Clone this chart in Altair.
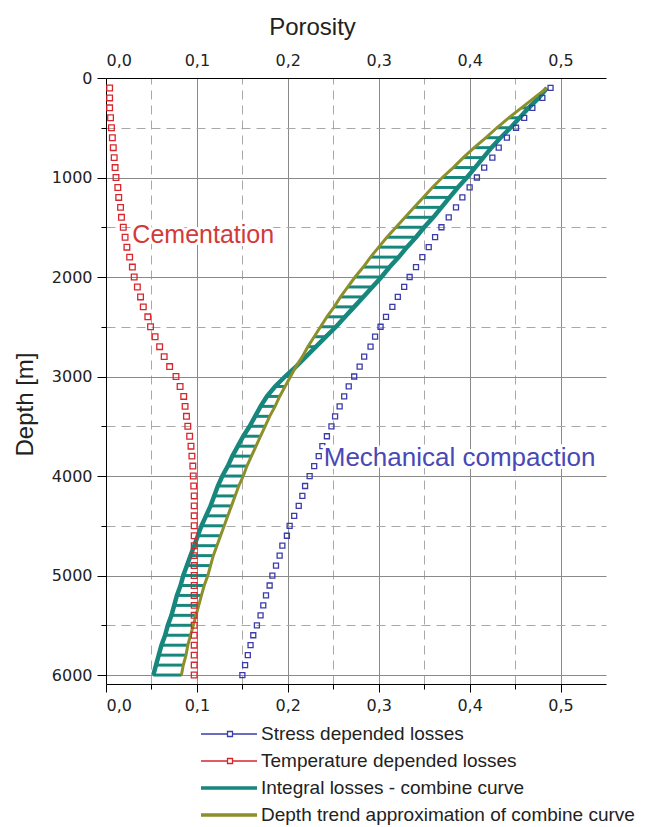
import altair as alt
import pandas as pd

# ---------------- data ----------------
depth = [100, 200, 300, 400, 500, 600, 700, 800, 900, 1000,
         1100, 1200, 1300, 1400, 1500, 1600, 1700, 1800, 1900, 2000,
         2100, 2200, 2300, 2400, 2500, 2600, 2700, 2800, 2900, 3000,
         3100, 3200, 3300, 3400, 3500, 3600, 3700, 3800, 3900, 4000,
         4100, 4200, 4300, 4400, 4500, 4600, 4700, 4800, 4900, 5000,
         5100, 5200, 5300, 5400, 5500, 5600, 5700, 5800, 5900, 6000]

stress = [0.489, 0.480, 0.469, 0.460, 0.451, 0.441, 0.432, 0.425, 0.416, 0.408,
          0.400, 0.392, 0.385, 0.377, 0.369, 0.362, 0.355, 0.348, 0.341, 0.334,
          0.328, 0.321, 0.315, 0.308, 0.302, 0.296, 0.291, 0.284, 0.279, 0.273,
          0.267, 0.262, 0.257, 0.252, 0.248, 0.243, 0.238, 0.234, 0.229, 0.224,
          0.219, 0.216, 0.212, 0.207, 0.202, 0.199, 0.194, 0.191, 0.187, 0.183,
          0.180, 0.176, 0.173, 0.170, 0.166, 0.162, 0.159, 0.156, 0.153, 0.150]

temperature = [0.004, 0.004, 0.004, 0.005, 0.006, 0.007, 0.008, 0.009, 0.010, 0.011,
               0.013, 0.014, 0.016, 0.017, 0.019, 0.021, 0.023, 0.026, 0.029, 0.031,
               0.0345, 0.038, 0.041, 0.046, 0.049, 0.054, 0.059, 0.064, 0.070, 0.077,
               0.0815, 0.0855, 0.087, 0.0885, 0.090, 0.092, 0.0935, 0.0945, 0.0955, 0.096,
               0.0965, 0.097, 0.097, 0.097, 0.097, 0.097, 0.097, 0.097, 0.097, 0.097,
               0.097, 0.097, 0.097, 0.097, 0.097, 0.097, 0.097, 0.097, 0.097, 0.097]

integral = [0.485, 0.476, 0.465, 0.455, 0.445, 0.434, 0.424, 0.415, 0.406, 0.397,
            0.387, 0.378, 0.369, 0.360, 0.350, 0.341, 0.331, 0.322, 0.312, 0.303,
            0.293, 0.283, 0.273, 0.263, 0.253, 0.242, 0.231, 0.220, 0.209, 0.197,
            0.186, 0.177, 0.170, 0.164, 0.158, 0.151, 0.145, 0.139, 0.134, 0.128,
            0.123, 0.119, 0.115, 0.110, 0.105, 0.101, 0.097, 0.093, 0.089, 0.085,
            0.082, 0.078, 0.075, 0.072, 0.068, 0.065, 0.061, 0.058, 0.055, 0.052]

trend = [0.485, 0.471, 0.457, 0.443, 0.430, 0.418, 0.405, 0.393, 0.382, 0.370,
         0.359, 0.349, 0.339, 0.329, 0.319, 0.309, 0.300, 0.291, 0.283, 0.274,
         0.266, 0.258, 0.251, 0.243, 0.236, 0.229, 0.222, 0.216, 0.209, 0.203,
         0.197, 0.191, 0.186, 0.180, 0.175, 0.170, 0.165, 0.160, 0.155, 0.151,
         0.146, 0.142, 0.138, 0.134, 0.130, 0.126, 0.122, 0.118, 0.115, 0.112,
         0.108, 0.105, 0.102, 0.099, 0.096, 0.093, 0.090, 0.088, 0.085, 0.083]

series_names = ["Stress depended losses", "Temperature depended  losses",
                "Integral losses - combine curve", "Depth trend approximation of combine curve"]
series_colors = ["#3b3bab", "#d8262c", "#17877d", "#8c8f2a"]

x_tick_values = [0.0, 0.05, 0.1, 0.15, 0.2, 0.25, 0.3, 0.35, 0.4, 0.45, 0.5]
y_tick_values = [0, 500, 1000, 1500, 2000, 2500, 3000, 3500, 4000, 4500, 5000, 5500, 6000]

note_text = ["Cementation", "Mechanical compaction"]
note_x = [0.029, 0.2395]
note_depth = [1580, 3820]
note_color = ["#d23a3a", "#4848b6"]
note_size = [25, 26]

# ---------------- tables ----------------
wide = pd.DataFrame({"depth": depth, "stress": stress, "temperature": temperature,
                     "integral": integral, "trend": trend})
cols = ["stress", "temperature", "integral", "trend"]
long = wide.melt(id_vars="depth", value_vars=cols, var_name="key", value_name="value")
long["series"] = long["key"].map(dict(zip(cols, series_names)))
notes = pd.DataFrame({"text": note_text, "x": note_x, "depth": note_depth,
                      "color": note_color, "size": note_size})

TEAL = series_colors[2]

xs = alt.Scale(domain=[0, 0.55], nice=False, zero=False)
ys = alt.Scale(domain=[0, 6090], reverse=True, nice=False, zero=False)
cs = alt.Scale(domain=series_names, range=series_colors)

# legend symbols: line with small square, or thick line (three parallel strokes)
SQ = "M-4.6,0H-1.95M-1.45,0H1M-1.95,-0.25H-1.45V0.25H-1.95Z"
LN = "M-4.6,-0.1H1M-4.6,0H1M-4.6,0.1H1"
ss = alt.Scale(domain=series_names, range=[SQ, SQ, LN, LN])

MAJOR_X = "round(datum.value*100) % 10 == 0"
MAJOR_Y = "datum.value % 1000 == 0"
XLABEL = "round(datum.value*100) % 10 == 0 ? replace(format(datum.value, '.1f'), '.', ',') : ''"

bottom_axis = alt.Axis(
    values=x_tick_values, labelExpr=XLABEL, title=None,
    labelFont="DejaVu Sans", labelFontSize=16, labelColor="#222",
    labelPadding=5, domainColor="black", tickColor="black",
    tickSize={"condition": {"test": MAJOR_X, "value": 8}, "value": 5},
    grid=True,
    gridColor={"condition": {"test": MAJOR_X, "value": "#8a8a8a"}, "value": "#a8a8a8"},
    gridDash={"condition": {"test": MAJOR_X, "value": []}, "value": [9, 6]},
    gridOpacity={"condition": {"test": "datum.value == 0", "value": 0}, "value": 1},
)
top_axis = alt.Axis(
    orient="top", values=x_tick_values, labelExpr=XLABEL,
    title="Porosity", titleFont="Liberation Sans", titleFontSize=24, titleFontWeight="normal",
    titleColor="#222", titleX=206, titleY=-51, titleAlign="center", titleBaseline="middle",
    labelFont="DejaVu Sans", labelFontSize=16, labelColor="#222", labelPadding=10,
    ticks=False, grid=False, domainColor="black",
)
y_axis = alt.Axis(
    values=y_tick_values, labelExpr="datum.value % 1000 == 0 ? datum.value : ''",
    title="Depth [m]", titleFont="Liberation Sans", titleFontSize=24, titleFontWeight="normal",
    titleColor="#222", titleX=-81, titleY=326, titleAlign="center", titleBaseline="middle",
    titleAngle=270,
    labelFont="DejaVu Sans", labelFontSize=16, labelColor="#222", labelPadding=5,
    domainColor="black", tickColor="black",
    tickSize={"condition": {"test": MAJOR_Y, "value": 9}, "value": 5},
    grid=True,
    gridColor={"condition": {"test": MAJOR_Y, "value": "#8a8a8a"}, "value": "#a8a8a8"},
    gridDash={"condition": {"test": MAJOR_Y, "value": []}, "value": [9, 6]},
    gridOpacity={"condition": {"test": "datum.value == 0", "value": 0}, "value": 1},
)

legend = alt.Legend(
    title=None, orient="none", legendX=130, legendY=645, padding=0,
    symbolSize=400, symbolStrokeWidth=1.3, symbolFillColor="transparent",
    labelFont="Liberation Sans", labelFontSize=19, labelColor="#222",
    labelOffset=3, labelLimit=0, rowPadding=6,
)

Y = alt.Y("depth:Q", scale=ys, axis=y_axis)

hatch = alt.Chart(wide).mark_rule(color=TEAL, strokeWidth=3).encode(
    x=alt.X("integral:Q", scale=xs, axis=bottom_axis),
    x2="trend:Q",
    y=Y,
)

def line_layer(name, width, axis):
    return alt.Chart(long).transform_filter(alt.datum.series == name).mark_line(
        strokeWidth=width).encode(
        x=alt.X("value:Q", scale=xs, axis=axis),
        y=Y,
        color=alt.Color("series:N", scale=cs, legend=legend),
        order=alt.Order("depth:Q"),
    )

def point_layer(name, size):
    return alt.Chart(long).transform_filter(alt.datum.series == name).mark_point(
        shape="square", filled=False, size=size, strokeWidth=1.3, opacity=1).encode(
        x=alt.X("value:Q", scale=xs, axis=None),
        y=Y,
        color=alt.Color("series:N", scale=cs, legend=legend),
    )

teal_line = line_layer(series_names[2], 4.5, top_axis)
olive_line = line_layer(series_names[3], 3, None)
blue_pts = point_layer(series_names[0], 25)
red_pts = point_layer(series_names[1], 32)

# invisible layer (no rows) that only carries the legend's symbol shapes
legend_carrier = alt.Chart(long).transform_filter("false").mark_point(
    filled=False, strokeWidth=1.3).encode(
    x=alt.X("value:Q", scale=xs, axis=None),
    y=Y,
    color=alt.Color("series:N", scale=cs, legend=legend),
    shape=alt.Shape("series:N", scale=ss, legend=legend),
)

note_halo = alt.Chart(notes).mark_text(
    align="left", baseline="middle", font="Liberation Sans", stroke="white",
    strokeWidth=6, strokeJoin="round").encode(
    x=alt.X("x:Q", scale=xs, axis=None),
    y=Y,
    text="text:N", size=alt.Size("size:Q", scale=None),
    color=alt.value("white"),
)
note_text_layer = alt.Chart(notes).mark_text(
    align="left", baseline="middle", font="Liberation Sans").encode(
    x=alt.X("x:Q", scale=xs, axis=None),
    y=Y,
    text="text:N", size=alt.Size("size:Q", scale=None),
    color=alt.Color("color:N", scale=None),
)

chart = alt.layer(
    hatch, teal_line, olive_line, blue_pts, red_pts, legend_carrier, note_halo, note_text_layer
).resolve_axis(x="independent").properties(
    width=500, height=606,
    padding={"left": 106, "top": 78, "right": 44, "bottom": 143},
    autosize=alt.AutoSizeParams(type="none"),
    background="white",
).configure_view(stroke=None)

chart.save("out.html", embed_options={"renderer": "svg", "actions": False})
